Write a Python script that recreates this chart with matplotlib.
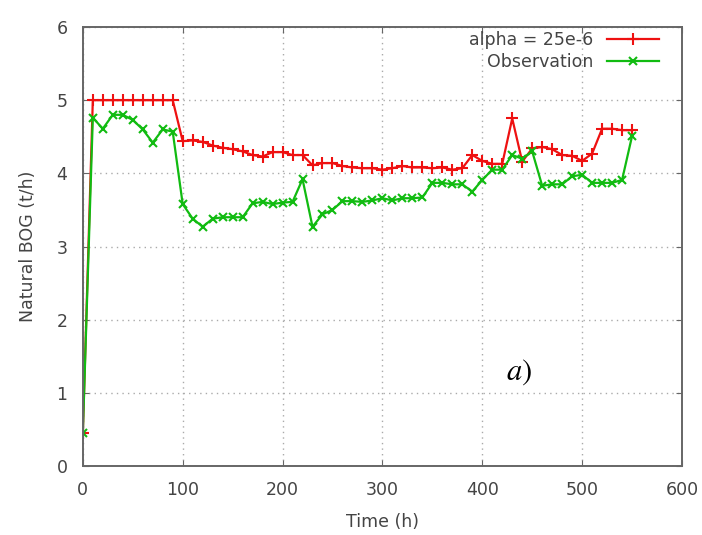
import numpy as np
import matplotlib.pyplot as plt

# Time axis (h), one sample every 10 h
time_h = list(range(0, 560, 10))

# Model, alpha = 25e-6
model_bog = [0.45, 5.0, 5.0, 5.0, 5.0, 5.0, 5.0, 5.0, 5.0, 5.0,
             4.44, 4.45, 4.43, 4.38, 4.35, 4.33, 4.30, 4.25, 4.23, 4.29,
             4.29, 4.25, 4.25, 4.11, 4.14, 4.14, 4.10, 4.08, 4.07, 4.07,
             4.05, 4.07, 4.10, 4.08, 4.08, 4.07, 4.08, 4.05, 4.07, 4.25,
             4.17, 4.13, 4.13, 4.75, 4.16, 4.34, 4.36, 4.33, 4.25, 4.24,
             4.17, 4.27, 4.61, 4.61, 4.59, 4.59]

# Measured
obs_bog = [0.45, 4.76, 4.61, 4.80, 4.80, 4.73, 4.60, 4.42, 4.60, 4.57,
           3.58, 3.38, 3.27, 3.38, 3.40, 3.40, 3.40, 3.59, 3.61, 3.58,
           3.60, 3.61, 3.92, 3.27, 3.44, 3.50, 3.62, 3.62, 3.61, 3.63,
           3.66, 3.63, 3.66, 3.66, 3.67, 3.87, 3.87, 3.85, 3.85, 3.75,
           3.91, 4.05, 4.05, 4.25, 4.20, 4.30, 3.83, 3.85, 3.85, 3.96,
           3.98, 3.87, 3.87, 3.87, 3.91, 4.51]

txt_col = '#444444'
fs = 12.5

fig = plt.figure(figsize=(7.02, 5.35), dpi=100)
ax = fig.add_axes([0.118, 0.129, 0.8535, 0.8205])

ax.plot(time_h, model_bog, color='#ee1111', lw=1.6, marker='+', ms=8, mew=1.5,
        label='alpha = 25e-6')
ax.plot(time_h, obs_bog, color='#11bb11', lw=1.6, marker='x', ms=6, mew=1.5,
        label='Observation')

ax.set_xlim(0, 600)
ax.set_ylim(0, 6)
ax.set_xticks(range(0, 700, 100))
ax.set_yticks(range(0, 7))
ax.grid(True, color='#aaaaaa', linestyle=(0, (1, 3)), lw=1)

for side in ax.spines:
    ax.spines[side].set_color('#666666')
    ax.spines[side].set_linewidth(1.4)
ax.tick_params(labelsize=fs, labelcolor=txt_col, color='#666666', length=4,
               direction='in', top=True, right=True, pad=11)

ax.set_xlabel('Time (h)', fontsize=fs, color=txt_col, labelpad=10)
ax.set_ylabel('Natural BOG (t/h)', fontsize=fs, color=txt_col, labelpad=14)

leg = ax.legend(loc='upper right', bbox_to_anchor=(0.962, 0.99), markerfirst=False,
                frameon=False, fontsize=fs, handlelength=3.0, borderaxespad=0,
                borderpad=0, labelspacing=0.2, numpoints=1)
for t in leg.get_texts():
    t.set_color(txt_col)

ax.text(437, 1.28, r'$a)$', fontsize=22, ha='center', va='center',
        math_fontfamily='stix')

fig.savefig('out.png', dpi=100)
